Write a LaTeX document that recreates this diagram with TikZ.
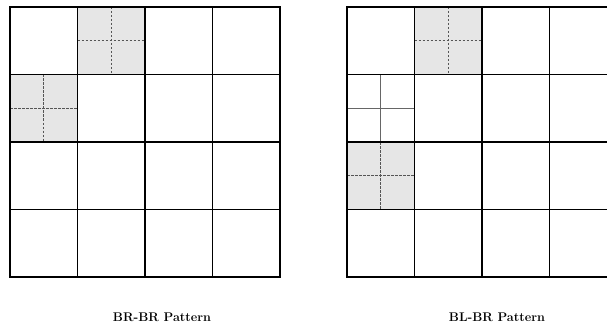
\documentclass[tikz,border=0pt]{standalone}
\usepackage{tikz}
\definecolor{cellfill}{RGB}{230,230,230}
\definecolor{dashc}{RGB}{85,85,85}
\tikzset{
  shaded/.style={fill=cellfill, draw=none},
  subdash/.style={draw=dashc, line width=0.9pt, dash pattern=on 2.5pt off 1.5pt},
  subsolid/.style={draw=black!60, line width=0.9pt},
  innerline/.style={draw=black, line width=1pt},
  midline/.style={draw=black, line width=1.8pt},
  outerline/.style={draw=black, line width=1.4pt},
  caption/.style={font=\fontsize{12.6}{15}\selectfont\bfseries, inner sep=0pt, anchor=base}
}
\begin{document}
\begin{tikzpicture}[x=1pt, y=-1pt]
\useasboundingbox (0,0) rectangle (607,326);
\begin{scope}
\clip (0,0) rectangle (607,326);
% ---------- Left grid: BR-BR ----------
\begin{scope}[shift={(10,7)}]
  \fill[shaded] (67.5,0) rectangle (135,67.5);
  \fill[shaded] (0,67.5) rectangle (67.5,135);
  \draw[subdash] (101.25,0) -- (101.25,67.5) (67.5,33.75) -- (135,33.75);
  \draw[subdash] (33.75,67.5) -- (33.75,135) (0,101.25) -- (67.5,101.25);
  \foreach \t in {67.5,202.5} {
    \draw[innerline] (\t,0) -- (\t,270);
    \draw[innerline] (0,\t) -- (270,\t);
  }
  \draw[midline] (135,0) -- (135,270) (0,135) -- (270,135);
  \draw[outerline] (0,0) rectangle (270,270);
\end{scope}
% ---------- Right grid: BL-BR ----------
\begin{scope}[shift={(347,7)}]
  \fill[shaded] (67.5,0) rectangle (135,67.5);
  \fill[shaded] (0,135) rectangle (67.5,202.5);
  \draw[subdash] (101.25,0) -- (101.25,67.5) (67.5,33.75) -- (135,33.75);
  \draw[subdash] (33.75,135) -- (33.75,202.5) (0,168.75) -- (67.5,168.75);
  \draw[subsolid] (33.75,67.5) -- (33.75,135) (0,101.25) -- (67.5,101.25);
  \foreach \t in {67.5,202.5} {
    \draw[innerline] (\t,0) -- (\t,270);
    \draw[innerline] (0,\t) -- (270,\t);
  }
  \draw[midline] (135,0) -- (135,270) (0,135) -- (270,135);
  \draw[outerline] (0,0) rectangle (270,270);
\end{scope}
\end{scope}
\node[caption] (capL) at (162,321.5) {BR-BR Pattern};
\node[caption] (capR) at (497,321.5) {BL-BR Pattern};
\end{tikzpicture}
\end{document}
